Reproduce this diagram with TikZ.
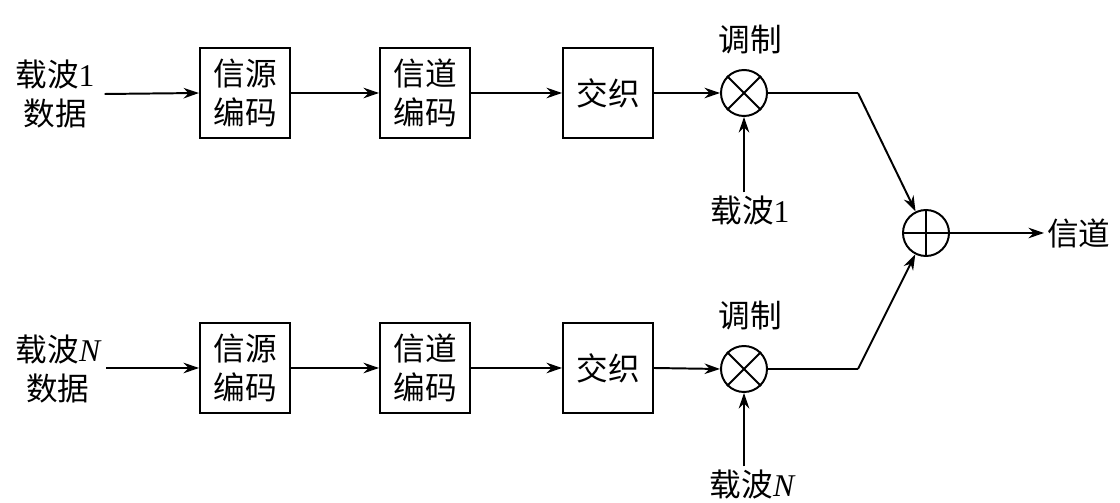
\documentclass[tikz,border=0pt]{standalone}
\usepackage{fontspec}
\setmainfont{Liberation Serif}
\newfontfamily\cjk{Noto Sans CJK SC}
\usetikzlibrary{arrows.meta}
\begin{document}
\begin{tikzpicture}[x=0.025cm,y=-0.025cm,
  every node/.style={font=\cjk\fontsize{22.5}{28}\selectfont},
  blockbox/.style={draw,line width=1.4pt,minimum width=2.25cm,minimum height=2.25cm,align=center,inner sep=0pt},
  mixer/.style={draw,circle,line width=1.4pt,minimum size=1.15cm,inner sep=0pt},
  lbl/.style={align=center,inner sep=2pt},
  conn/.style={line width=1.4pt},
  arr/.style={conn,-{Stealth[length=11pt,width=7.5pt]}}]
\useasboundingbox (0,0) rectangle (1120,503);
% top row
\node[lbl,inner xsep=7pt] (in1) at (55,94) {载波{\rmfamily 1}\\数据};
\node[blockbox] (a1) at (245,93) {信源\\编码};
\node[blockbox] (b1) at (425,93) {信道\\编码};
\node[blockbox] (c1) at (608,93) {交织};
\node[mixer] (m1) at (744,93) {};
\draw[conn] (m1.north west) -- (m1.south east) (m1.north east) -- (m1.south west);
\node[lbl] (t1) at (750,40) {调制};
\node[lbl] (k1) at (750,210) {载波{\rmfamily 1}};
\coordinate (j1) at (858,93);
% bottom row
\node[lbl,inner xsep=4pt] (in2) at (58,369) {载波{\rmfamily\itshape N}\\数据};
\node[blockbox] (a2) at (245,368) {信源\\编码};
\node[blockbox] (b2) at (425,368) {信道\\编码};
\node[blockbox] (c2) at (608,368) {交织};
\node[mixer] (m2) at (744,369) {};
\draw[conn] (m2.north west) -- (m2.south east) (m2.north east) -- (m2.south west);
\node[lbl] (t2) at (750,316) {调制};
\node[lbl] (k2) at (752,484) {载波{\rmfamily\itshape N}};
\coordinate (j2) at (858,369);
% sum
\node[mixer] (s) at (926,233) {};
\draw[conn] (s.north) -- (s.south) (s.west) -- (s.east);
\node[lbl,anchor=west] (out) at (1044,233) {信道};
% connectors
\draw[arr] (in1.east) -- (a1.west);
\draw[arr] (a1.east) -- (b1.west);
\draw[arr] (b1.east) -- (c1.west);
\draw[arr] (c1.east) -- (m1.west);
\draw[arr] (k1.north -| m1.south) -- (m1.south);
\draw[conn] (m1.east) -- (j1);
\draw[arr] (j1) -- (s);
\draw[arr] (in2.east |- a2.west) -- (a2.west);
\draw[arr] (a2.east) -- (b2.west);
\draw[arr] (b2.east) -- (c2.west);
\draw[arr] (c2.east) -- (m2.west);
\draw[arr] (k2.north -| m2.south) -- (m2.south);
\draw[conn] (m2.east) -- (j2);
\draw[arr] (j2) -- (s);
\draw[arr] (s.east) -- (out.west);
\end{tikzpicture}
\end{document}
